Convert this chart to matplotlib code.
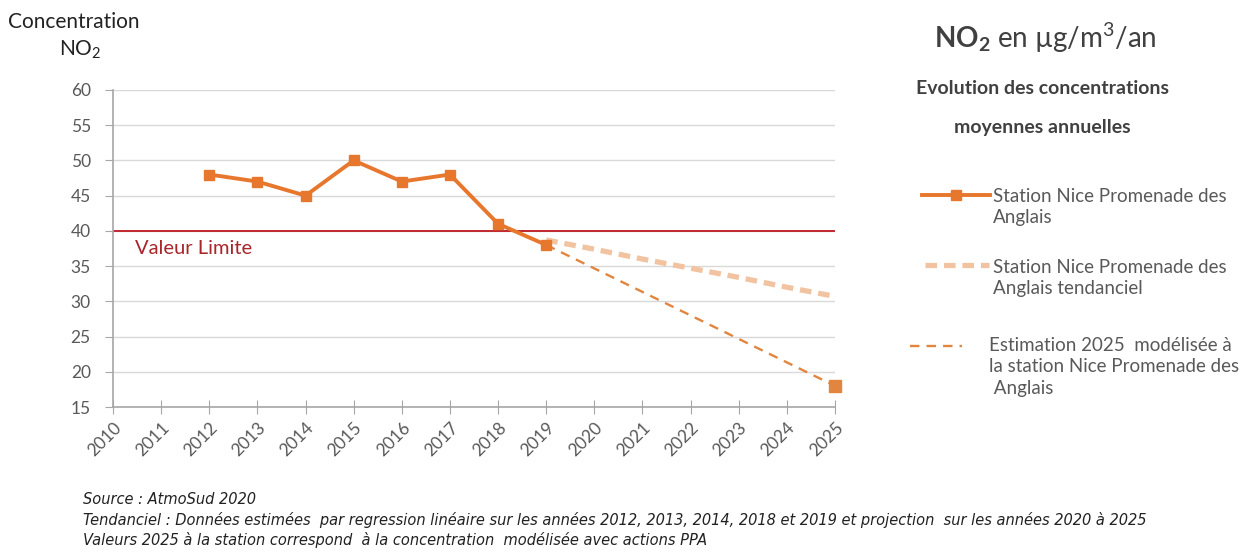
import matplotlib.pyplot as plt
from matplotlib.lines import Line2D

plt.rcParams['font.family'] = ['Lato', 'DejaVu Sans']
plt.rcParams['mathtext.fontset'] = 'custom'
plt.rcParams['mathtext.rm'] = 'Lato'
plt.rcParams['mathtext.bf'] = 'Lato:bold'
plt.rcParams['mathtext.it'] = 'Lato:italic'

years = list(range(2010, 2026))
station_years = [2012, 2013, 2014, 2015, 2016, 2017, 2018, 2019]
station_values = [48, 47, 45, 50, 47, 48, 41, 38]
trend_years = [2019, 2020, 2021, 2022, 2023, 2024, 2025]
trend_values = [38.7, 37.4, 36.0, 34.7, 33.4, 32.0, 30.7]
estim_years = [2019, 2025]
estim_values = [38, 18]
limit_value = 40

orange = "#E8772E"
peach = "#F2C3A0"
estim_col = "#E2853F"
red = "#C0282D"
gray_txt = "#595959"

fig = plt.figure(figsize=(12.53, 5.53), dpi=100)
ax = fig.add_axes([0.0902, 0.264, 0.5762, 0.5733])

ax.axhline(limit_value, color=red, lw=1.4, zorder=2)
ax.plot(trend_years, trend_values, color=peach, lw=3.8, ls=(0, (2.2, 1.3)), zorder=3)
ax.plot(estim_years, estim_values, color=estim_col, lw=1.7, ls=(0, (4, 3)),
        marker="s", markevery=[1], markersize=8, zorder=3, clip_on=False)
ax.plot(station_years, station_values, color=orange, lw=2.8, marker="s",
        markersize=7, zorder=4)

ax.text(2010.45, 37.5, "Valeur Limite", color="#A8262A", fontsize=14.5, va="center")

ax.set_xlim(2010, 2025)
ax.set_ylim(15, 60)
ax.set_yticks(range(15, 61, 5))
ax.set_xticks(years)
ax.set_xticklabels([str(y) for y in years], rotation=45, ha="right",
                   rotation_mode="anchor", fontsize=12.5, color=gray_txt)
ax.tick_params(axis="y", labelsize=12.5, labelcolor=gray_txt, length=6,
               color="#A6A6A6", pad=10)
ax.tick_params(axis="x", direction="inout", length=10, color="#A6A6A6", pad=4)
ax.grid(axis="y", color="#D9D9D9", lw=1)
ax.set_axisbelow(True)
for s in ["top", "right"]:
    ax.spines[s].set_visible(False)
for s in ["left", "bottom"]:
    ax.spines[s].set_color("#A6A6A6")
    ax.spines[s].set_linewidth(1.2)


def fx(px):
    return px / 1253


def fy(py):
    return 1 - py / 553


# axis title
fig.text(fx(8), fy(22), "Concentration", fontsize=15, va="center", color="#222222")
fig.text(fx(80), fy(50), "NO$_2$", fontsize=15, va="center", ha="center", color="#222222")

# right-hand titles
fig.text(fx(1045), fy(38), r"$\mathbf{NO_2}$ en µg/m$^3$/an", fontsize=20,
         ha="center", va="center", color="#404040")
fig.text(fx(1042), fy(88), "Evolution des concentrations", fontsize=14,
         fontweight="bold", ha="center", va="center", color="#404040")
fig.text(fx(1042), fy(128), "moyennes annuelles", fontsize=14,
         fontweight="bold", ha="center", va="center", color="#404040")

# legend drawn by hand
fig.add_artist(Line2D([fx(922), fx(990)], [fy(195), fy(195)], color=orange, lw=2.8,
                      transform=fig.transFigure))
fig.add_artist(Line2D([fx(956)], [fy(195)], color=orange, marker="s", markersize=7,
                      transform=fig.transFigure))
fig.add_artist(Line2D([fx(925), fx(989)], [fy(265), fy(265)], color=peach, lw=3.8,
                      ls=(0, (2.2, 1.3)), transform=fig.transFigure))
fig.add_artist(Line2D([fx(910), fx(962)], [fy(346), fy(346)], color=estim_col, lw=1.7,
                      ls=(0, (4, 3)), transform=fig.transFigure))
leg_kw = dict(fontsize=13.5, color=gray_txt, va="center", linespacing=1.3)
fig.text(fx(993), fy(207), "Station Nice Promenade des\nAnglais", **leg_kw)
fig.text(fx(993), fy(278), "Station Nice Promenade des\nAnglais tendanciel", **leg_kw)
fig.text(fx(989), fy(367), "Estimation 2025  modélisée à\nla station Nice Promenade des\n Anglais", **leg_kw)

# footnotes
foot_kw = dict(fontsize=10.5, style="italic", color="#222222", va="center",
               family="DejaVu Sans")
fig.text(fx(83), fy(500), "Source : AtmoSud 2020", **foot_kw)
fig.text(fx(83), fy(520), "Tendanciel : Données estimées  par regression linéaire sur les années 2012, 2013, 2014, 2018 et 2019 et projection  sur les années 2020 à 2025", **foot_kw)
fig.text(fx(83), fy(540), "Valeurs 2025 à la station correspond  à la concentration  modélisée avec actions PPA", **foot_kw)

fig.savefig("out.png", dpi=100)
